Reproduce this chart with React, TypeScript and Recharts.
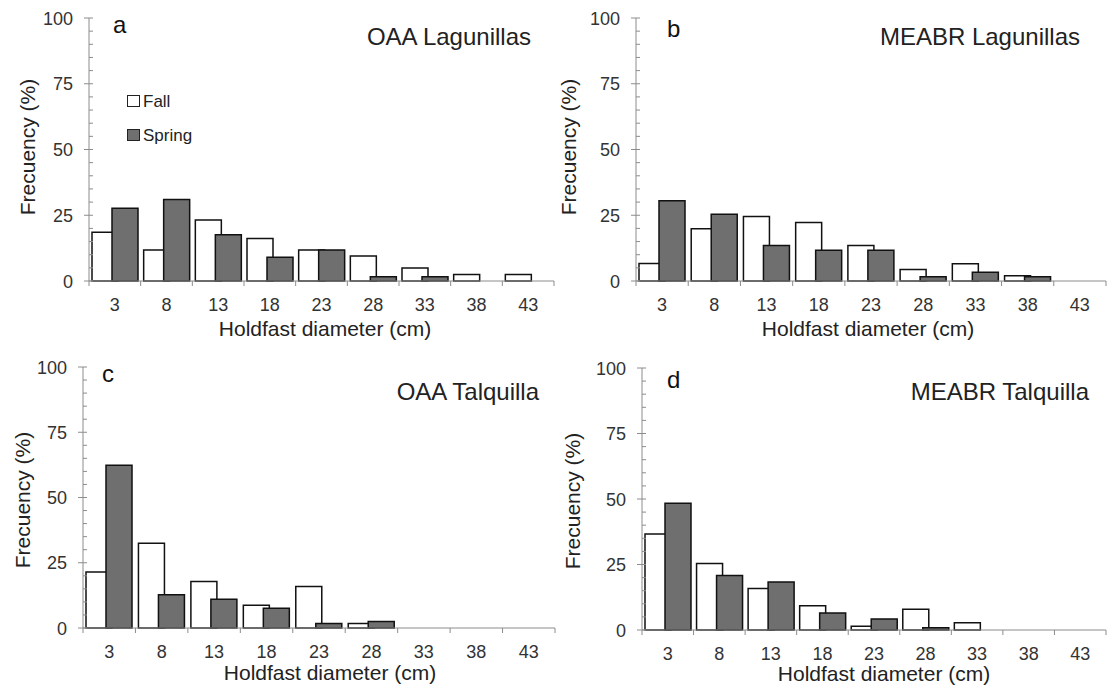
import { BarChart, Bar, XAxis, YAxis } from "recharts";

// holdfast diameter classes (cm)
const sizes = ["3", "8", "13", "18", "23", "28", "33", "38", "43"];
const yTicks = [0, 5, 10, 15, 20, 25, 30, 35, 40, 45, 50, 55, 60, 65, 70, 75, 80, 85, 90, 95, 100];
const yLabels = [0, 25, 50, 75, 100];
const seasons = ["Fall", "Spring"];

const panelLetters = ["a", "b", "c", "d"];
const panelTitles = ["OAA Lagunillas", "MEABR Lagunillas", "OAA Talquilla", "MEABR Talquilla"];

// frequency (%) per class
const fallA = [18.5, 11.8, 23.2, 16.2, 11.8, 9.5, 4.9, 2.5, 2.5];
const springA = [27.7, 31, 17.6, 9, 11.8, 1.6, 1.6, 0, 0];
const fallB = [6.7, 19.9, 24.5, 22.2, 13.5, 4.4, 6.6, 2, 0];
const springB = [30.5, 25.4, 13.5, 11.7, 11.7, 1.6, 3.3, 1.6, 0];
const fallC = [21.5, 32.5, 17.8, 8.7, 15.9, 1.7, 0, 0, 0];
const springC = [62.4, 12.7, 11, 7.6, 1.7, 2.5, 0, 0, 0];
const fallD = [36.6, 25.4, 15.8, 9.3, 1.4, 7.9, 2.8, 0, 0];
const springD = [48.4, 20.8, 18.3, 6.5, 4.2, 0.9, 0, 0, 0];

const FONT = "'Liberation Sans', Arial, sans-serif";
const AXIS = "#8c8c8c";
const SPRING = "#6f6f6f";

type Layout = {
  left: number; top: number; w: number; h: number;
  mt: number; mr: number; yw: number; xh: number;
  // overlay text positions (page coords)
  letterX: number; letterY: number;
  titleX: number; titleY: number;
  yTitleX: number; yTitleY: number;
  xTitleX: number; xTitleY: number;
};

const layouts: Layout[] = [
  { left: 0, top: 0, w: 560, h: 345, mt: 18, mr: 6, yw: 89, xh: 64,
    letterX: 113, letterY: 33, titleX: 531, titleY: 45, yTitleX: 35, yTitleY: 147, xTitleX: 325, xTitleY: 336 },
  { left: 560, top: 0, w: 547, h: 345, mt: 18, mr: 1, yw: 76, xh: 64,
    letterX: 667, letterY: 37, titleX: 1080, titleY: 45, yTitleX: 576, yTitleY: 147, xTitleX: 868, xTitleY: 336 },
  { left: 0, top: 345, w: 560, h: 346, mt: 22, mr: 5, yw: 83, xh: 63,
    letterX: 102, letterY: 382, titleX: 539, titleY: 400, yTitleX: 30, yTitleY: 500, xTitleX: 330, xTitleY: 680 },
  { left: 560, top: 345, w: 547, h: 346, mt: 23, mr: 1, yw: 82, xh: 61,
    letterX: 667, letterY: 388, titleX: 1089, titleY: 400, yTitleX: 580, yTitleY: 501, xTitleX: 884, xTitleY: 681 },
];

const series = [
  [fallA, springA],
  [fallB, springB],
  [fallC, springC],
  [fallD, springD],
];

function XTick(props: any) {
  const { x, payload, axisY, band } = props;
  const idx = props.index ?? payload.index;
  const last = idx === sizes.length - 1;
  return (
    <g>
      <line x1={x - band / 2} y1={axisY} x2={x - band / 2} y2={axisY + 5} stroke={AXIS} />
      {last && <line x1={x + band / 2} y1={axisY} x2={x + band / 2} y2={axisY + 5} stroke={AXIS} />}
      <text x={x} y={axisY + 29.5} textAnchor="middle" fontSize={18} fill="#333" fontFamily={FONT}>
        {payload.value}
      </text>
    </g>
  );
}

function YTick(props: any) {
  const { y, payload, axisX } = props;
  const major = yLabels.includes(payload.value);
  return (
    <g>
      <line x1={major ? axisX - 5 : axisX} y1={y} x2={axisX + 4} y2={y} stroke={AXIS} />
      {major && (
        <text x={axisX - 16} y={y + 6.5} textAnchor="end" fontSize={18} fill="#333" fontFamily={FONT}>
          {payload.value}
        </text>
      )}
    </g>
  );
}

function Panel({ fall, spring, lay }: { fall: number[]; spring: number[]; lay: Layout }) {
  const data = sizes.map((s, i) => ({ size: s, fall: fall[i], spring: spring[i] }));
  const axisX = lay.yw;
  const axisY = lay.h - lay.xh;
  const band = (lay.w - lay.yw - lay.mr) / sizes.length;
  return (
    <div style={{ position: "absolute", left: lay.left, top: lay.top }}>
      <BarChart
        width={lay.w}
        height={lay.h}
        data={data}
        margin={{ top: lay.mt, right: lay.mr, left: 0, bottom: 0 }}
        barSize={26}
        barGap={-6}
      >
        <XAxis
          dataKey="size"
          height={lay.xh}
          interval={0}
          axisLine={{ stroke: AXIS }}
          tickLine={false}
          tick={(p: any) => <XTick {...p} axisY={axisY} band={band} />}
        />
        <YAxis
          type="number"
          domain={[0, 100]}
          ticks={yTicks}
          interval={0}
          width={lay.yw}
          axisLine={{ stroke: AXIS }}
          tickLine={false}
          tick={(p: any) => <YTick {...p} axisX={axisX} />}
        />
        <Bar dataKey="fall" name={seasons[0]} fill="#fff" stroke="#111" strokeWidth={1.5} isAnimationActive={false} />
        <Bar dataKey="spring" name={seasons[1]} fill={SPRING} stroke="#111" strokeWidth={1.5} isAnimationActive={false} />
      </BarChart>
    </div>
  );
}

export default function App() {
  return (
    <div style={{ position: "absolute", left: 0, top: 0, width: 1107, height: 691, background: "#fff", fontFamily: FONT }}>
      {layouts.map((lay, i) => (
        <Panel key={i} fall={series[i][0]} spring={series[i][1]} lay={lay} />
      ))}
      <svg width={1107} height={691} style={{ position: "absolute", left: 0, top: 0, pointerEvents: "none" }} fontFamily={FONT}>
        {layouts.map((lay, i) => (
          <g key={i}>
            <text x={lay.letterX} y={lay.letterY} fontSize={24} fill="#111">{panelLetters[i]}</text>
            <text x={lay.titleX} y={lay.titleY} fontSize={24} fill="#222" textAnchor="end">{panelTitles[i]}</text>
            <text
              x={lay.yTitleX}
              y={lay.yTitleY}
              fontSize={21}
              fill="#222"
              textAnchor="middle"
              transform={`rotate(-90 ${lay.yTitleX} ${lay.yTitleY})`}
            >
              Frecuency (%)
            </text>
            <text x={lay.xTitleX} y={lay.xTitleY} fontSize={21} fill="#222" textAnchor="middle">
              Holdfast diameter (cm)
            </text>
          </g>
        ))}
        {/* legend, panel a */}
        <rect x={127.5} y={95.5} width={12} height={11} fill="#fff" stroke="#222" />
        <text x={143} y={107} fontSize={17} fill="#222">{seasons[0]}</text>
        <rect x={127.5} y={129.5} width={12} height={11} fill={SPRING} stroke="#222" />
        <text x={143} y={141} fontSize={17} fill="#222">{seasons[1]}</text>
      </svg>
    </div>
  );
}
